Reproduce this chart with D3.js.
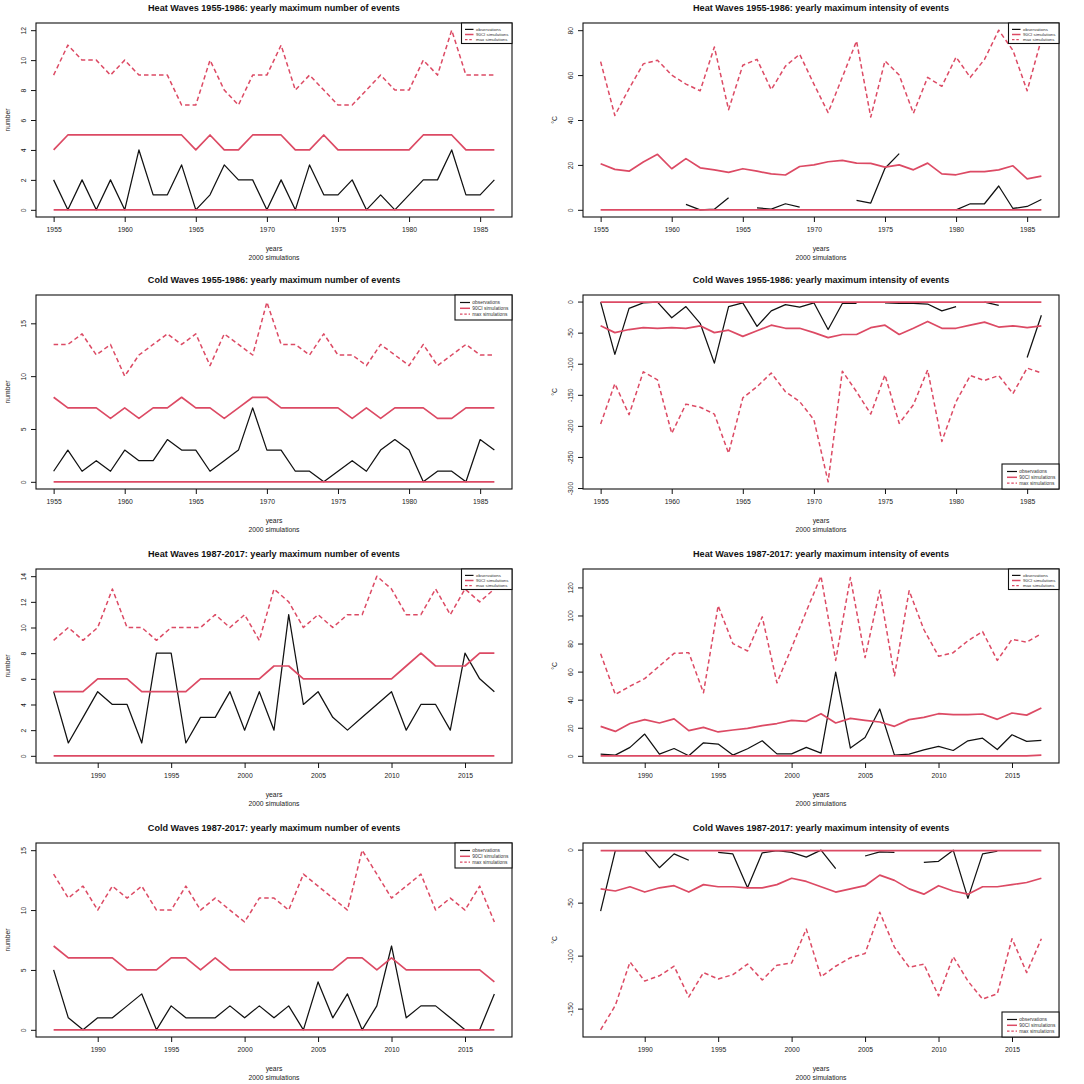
<!DOCTYPE html>
<html><head><meta charset="utf-8">
<script src="https://cdn.jsdelivr.net/npm/d3@7"></script>
<style>body{margin:0;background:#fff}svg{display:block}text{font-family:"Liberation Sans",Arial,Helvetica,sans-serif}</style>
</head><body><svg id="c" width="1084" height="1084"></svg>
<script>
// ---------- categories & ticks ----------
const years1 = [1955,1956,1957,1958,1959,1960,1961,1962,1963,1964,1965,1966,1967,1968,1969,1970,1971,1972,1973,1974,1975,1976,1977,1978,1979,1980,1981,1982,1983,1984,1985,1986];
const years2 = [1987,1988,1989,1990,1991,1992,1993,1994,1995,1996,1997,1998,1999,2000,2001,2002,2003,2004,2005,2006,2007,2008,2009,2010,2011,2012,2013,2014,2015,2016,2017];
const xTicks1 = [1955,1960,1965,1970,1975,1980,1985];
const xTicks2 = [1990,1995,2000,2005,2010,2015];
const legendLabels = ["observations","90CI simulations","max simulations"];

// ---------- Heat Waves 1955-1986: number ----------
const heatNum1Obs = [2,0,2,0,2,0,4,1,1,3,0,1,3,2,2,0,2,0,3,1,1,2,0,1,0,1,2,2,4,1,1,2];
const heatNum1Lo  = [0,0,0,0,0,0,0,0,0,0,0,0,0,0,0,0,0,0,0,0,0,0,0,0,0,0,0,0,0,0,0,0];
const heatNum1Hi  = [4,5,5,5,5,5,5,5,5,5,4,5,4,4,5,5,5,4,4,5,4,4,4,4,4,4,5,5,5,4,4,4];
const heatNum1Max = [9,11,10,10,9,10,9,9,9,7,7,10,8,7,9,9,11,8,9,8,7,7,8,9,8,8,10,9,12,9,9,9];
const heatNum1Ticks = [0,2,4,6,8,10,12];

// ---------- Heat Waves 1955-1986: intensity ----------
const heatInt1Obs = [null,null,null,null,null,null,2.4,0,0.3,5.4,null,0.9,0.3,2.7,1.2,null,null,null,4.2,3,18.5,25,null,null,null,0,2.7,2.7,10.6,0.6,1.5,4.6];
const heatInt1Lo  = [0,0,0,0,0,0,0,0,0,0,0,0,0,0,0,0,0,0,0,0,0,0,0,0,0,0,0,0,0,0,0,0];
const heatInt1Hi  = [20.5,18,17.2,21.3,24.7,18.3,22.8,18.7,17.8,16.7,18.3,17.2,16,15.5,19.3,20,21.4,22,20.8,20.7,19,20,17.8,20.8,16,15.6,17,17,17.8,19.6,13.8,15];
const heatInt1Max = [66,42,54,65,66.6,60,56,53,72.5,44.6,64.4,67,53.5,64,69.3,56,43.3,59,75.2,41.3,66.3,60,43,59,55,68,59,67,80,71,53,76];
const heatInt1Ticks = [0,20,40,60,80];

// ---------- Cold Waves 1955-1986: number ----------
const coldNum1Obs = [1,3,1,2,1,3,2,2,4,3,3,1,2,3,7,3,3,1,1,0,1,2,1,3,4,3,0,1,1,0,4,3];
const coldNum1Lo  = [0,0,0,0,0,0,0,0,0,0,0,0,0,0,0,0,0,0,0,0,0,0,0,0,0,0,0,0,0,0,0,0];
const coldNum1Hi  = [8,7,7,7,6,7,6,7,7,8,7,7,6,7,8,8,7,7,7,7,7,6,7,6,7,7,7,6,6,7,7,7];
const coldNum1Max = [13,13,14,12,13,10,12,13,14,13,14,11,14,13,12,17,13,13,12,14,12,12,11,13,12,11,13,11,12,13,12,12];
const coldNum1Ticks = [0,5,10,15];

// ---------- Cold Waves 1955-1986: intensity ----------
const coldInt1Obs = [-1,-85,-11,-2,-1,-26,-8,-35,-99,-8,-2,-40,-15,-5,-9,-2,-45,-3,-3,null,-2,-3,-3,-4,-15,-8,null,-1,-6,null,-90,-22];
const coldInt1Lo  = [-39,-50,-45,-42,-43,-42,-43,-39,-50,-46,-56,-47,-38,-43,-43,-50,-58,-53,-53,-42,-38,-53,-43,-32,-43,-43,-38,-33,-41,-39,-42,-39];
const coldInt1Hi  = [-1,-1,-1,-1,-1,-1,-1,-1,-1,-1,-1,-1,-1,-1,-1,-1,-1,-1,-1,-1,-1,-1,-1,-1,-1,-1,-1,-1,-1,-1,-1,-1];
const coldInt1Max = [-197,-132,-182,-113,-126,-212,-165,-170,-181,-244,-155,-137,-115,-145,-161,-190,-290,-112,-145,-181,-118,-196,-166,-110,-225,-161,-119,-127,-119,-148,-107,-115];
const coldInt1Ticks = [-300,-250,-200,-150,-100,-50,0];

// ---------- Heat Waves 1987-2017: number ----------
const heatNum2Obs = [5,1,3,5,4,4,1,8,8,1,3,3,5,2,5,2,11,4,5,3,2,3,4,5,2,4,4,2,8,6,5];
const heatNum2Lo  = [0,0,0,0,0,0,0,0,0,0,0,0,0,0,0,0,0,0,0,0,0,0,0,0,0,0,0,0,0,0,0];
const heatNum2Hi  = [5,5,5,6,6,6,5,5,5,5,6,6,6,6,6,7,7,6,6,6,6,6,6,6,7,8,7,7,7,8,8];
const heatNum2Max = [9,10,9,10,13,10,10,9,10,10,10,11,10,11,9,13,12,10,11,10,11,11,14,13,11,11,13,11,13,12,13];
const heatNum2Ticks = [0,2,4,6,8,10,12,14];

// ---------- Heat Waves 1987-2017: intensity ----------
const heatInt2Obs = [1.2,0.5,6,15.5,1.2,5.2,0,9.3,8.4,0.5,5,10.7,1.4,1.4,6,1.9,59.7,5.5,13,33.4,0.5,1.2,4.3,6.7,3.8,10.7,12.6,4.5,15,10.3,11];
const heatInt2Lo  = [0,0,0,0,0,0,0,0,0,0,0,0,0,0,0,0,0,0,0,0,0,0,0,0,0,0,0,0,0,0,0.5];
const heatInt2Hi  = [21,17.4,23,25.8,23.4,26.3,18,20.3,17,18.4,19.6,21.5,23,25.3,24.6,30,23.4,26.7,25.3,24.1,21,25.8,27.4,30,29.4,29.4,29.8,26,30.5,29,34];
const heatInt2Max = [72.8,43.7,49.6,55,64,73,73.5,44.9,107,80,74.7,99,52,77,103,128,68,127,70,118,57,117.7,90,71,73.5,82,88.5,68,83,81,87];
const heatInt2Ticks = [0,20,40,60,80,100,120];

// ---------- Cold Waves 1987-2017: number ----------
const coldNum2Obs = [5,1,0,1,1,2,3,0,2,1,1,1,2,1,2,1,2,0,4,1,3,0,2,7,1,2,2,1,0,0,3];
const coldNum2Lo  = [0,0,0,0,0,0,0,0,0,0,0,0,0,0,0,0,0,0,0,0,0,0,0,0,0,0,0,0,0,0,0];
const coldNum2Hi  = [7,6,6,6,6,5,5,5,6,6,5,6,5,5,5,5,5,5,5,5,6,6,5,6,5,5,5,5,5,5,4];
const coldNum2Max = [13,11,12,10,12,11,12,10,10,12,10,11,10,9,11,11,10,13,12,11,10,15,13,11,12,13,10,11,10,12,9];
const coldNum2Ticks = [0,5,10,15];

// ---------- Cold Waves 1987-2017: intensity ----------
const coldInt2Obs = [-58,-1,-1,-1,-17,-4,-10,null,-2.5,-4,-36,-3,-1,-2.5,-7,-0.5,-18,null,-6,-2,-2.5,null,-12,-11,-0.5,-46,-4,-1.5,null,null,null];
const coldInt2Lo  = [-37,-39,-35,-40,-36,-34,-40,-33,-35,-35,-36,-36,-33,-27,-30,-35,-40,-37,-34,-24,-29,-37,-42,-34,-39,-42,-35,-35,-33,-31,-27];
const coldInt2Hi  = [-1,-1,-1,-1,-1,-1,-1,-1,-1,-1,-1,-1,-1,-1,-1,-1,-1,-1,-1,-1,-1,-1,-1,-1,-1,-1,-1,-1,-1,-1,-1];
const coldInt2Max = [-170,-147,-106,-124,-119,-110,-139,-116,-122,-118,-108,-123,-109,-107,-75,-120,-110,-102,-98,-59,-92,-111,-108,-138,-101,-124,-141,-136,-84,-116,-84];
const coldInt2Ticks = [-150,-100,-50,0];

// ---------- panel table built from the arrays ----------
const panels = [
  {title:"Heat Waves 1955-1986: yearly maximum number of events", years:years1, xTicks:xTicks1, obs:heatNum1Obs, lo:heatNum1Lo, hi:heatNum1Hi, max:heatNum1Max, yTicks:heatNum1Ticks, yLabel:"number", col:0, row:0, legend:"heat", legendAt:"top"},
  {title:"Heat Waves 1955-1986: yearly maximum intensity of events", years:years1, xTicks:xTicks1, obs:heatInt1Obs, lo:heatInt1Lo, hi:heatInt1Hi, max:heatInt1Max, yTicks:heatInt1Ticks, yLabel:"°C", col:1, row:0, legend:"heat", legendAt:"top"},
  {title:"Cold Waves 1955-1986: yearly maximum number of events", years:years1, xTicks:xTicks1, obs:coldNum1Obs, lo:coldNum1Lo, hi:coldNum1Hi, max:coldNum1Max, yTicks:coldNum1Ticks, yLabel:"number", col:0, row:1, legend:"cold", legendAt:"top"},
  {title:"Cold Waves 1955-1986: yearly maximum intensity of events", years:years1, xTicks:xTicks1, obs:coldInt1Obs, lo:coldInt1Lo, hi:coldInt1Hi, max:coldInt1Max, yTicks:coldInt1Ticks, yLabel:"°C", col:1, row:1, legend:"cold", legendAt:"bottom"},
  {title:"Heat Waves 1987-2017: yearly maximum number of events", years:years2, xTicks:xTicks2, obs:heatNum2Obs, lo:heatNum2Lo, hi:heatNum2Hi, max:heatNum2Max, yTicks:heatNum2Ticks, yLabel:"number", col:0, row:2, legend:"heat", legendAt:"top"},
  {title:"Heat Waves 1987-2017: yearly maximum intensity of events", years:years2, xTicks:xTicks2, obs:heatInt2Obs, lo:heatInt2Lo, hi:heatInt2Hi, max:heatInt2Max, yTicks:heatInt2Ticks, yLabel:"°C", col:1, row:2, legend:"heat", legendAt:"top"},
  {title:"Cold Waves 1987-2017: yearly maximum number of events", years:years2, xTicks:xTicks2, obs:coldNum2Obs, lo:coldNum2Lo, hi:coldNum2Hi, max:coldNum2Max, yTicks:coldNum2Ticks, yLabel:"number", col:0, row:3, legend:"cold", legendAt:"top"},
  {title:"Cold Waves 1987-2017: yearly maximum intensity of events", years:years2, xTicks:xTicks2, obs:coldInt2Obs, lo:coldInt2Lo, hi:coldInt2Hi, max:coldInt2Max, yTicks:coldInt2Ticks, yLabel:"°C", col:1, row:3, legend:"cold", legendAt:"bottom"}
];

// ---------- drawing ----------
const RED = "#DC4A64";
const svg = d3.select("#c");
const colLeft = [36, 583], frameW = 476, rowTop = [23, 295, 569, 843], frameH = 194;
const tickFont = 6.8;

panels.forEach(p => {
  const L = colLeft[p.col], T = rowTop[p.row], B = T + frameH, R = L + frameW;
  const g = svg.append("g");
  const y0 = p.years[0], y1 = p.years[p.years.length - 1], span = y1 - y0;
  const x = d3.scaleLinear().domain([y0 - 0.04 * span, y1 + 0.04 * span]).range([L, R]);
  const vals = [].concat(p.obs, p.lo, p.hi, p.max).filter(v => v != null);
  const [mn, mx] = d3.extent(vals), rg = mx - mn;
  const y = d3.scaleLinear().domain([mn - 0.04 * rg, mx + 0.04 * rg]).range([B, T]);

  const line = d3.line().defined(d => d[1] != null).x(d => x(d[0])).y(d => y(d[1]));
  const pts = arr => p.years.map((yr, i) => [yr, arr[i]]);

  // series
  g.append("path").attr("d", line(pts(p.obs))).attr("fill", "none").attr("stroke", "#111").attr("stroke-width", 1.25).attr("stroke-linejoin", "round");
  g.append("path").attr("d", line(pts(p.lo))).attr("fill", "none").attr("stroke", RED).attr("stroke-width", 1.7).attr("stroke-linejoin", "round");
  g.append("path").attr("d", line(pts(p.hi))).attr("fill", "none").attr("stroke", RED).attr("stroke-width", 1.7).attr("stroke-linejoin", "round");
  g.append("path").attr("d", line(pts(p.max))).attr("fill", "none").attr("stroke", RED).attr("stroke-width", 1.5).attr("stroke-dasharray", "4.5,3").attr("stroke-linejoin", "round");

  // frame
  g.append("rect").attr("x", L).attr("y", T).attr("width", frameW).attr("height", frameH).attr("fill", "none").attr("stroke", "#111").attr("stroke-width", 1.1);

  // x axis
  const xa = g.append("g").attr("transform", `translate(0,${B})`)
    .call(d3.axisBottom(x).tickValues(p.xTicks).tickSize(5).tickPadding(5.5).tickFormat(d3.format("d")));
  xa.select(".domain").remove();
  xa.selectAll(".tick line").attr("stroke", "#111");
  xa.selectAll(".tick text").attr("font-size", tickFont).attr("fill", "#222").style("font-family", '"Liberation Sans",Arial,sans-serif');

  // y axis
  const ya = g.append("g").attr("transform", `translate(${L},0)`)
    .call(d3.axisLeft(y).tickValues(p.yTicks).tickSize(5).tickFormat(d3.format("d")));
  ya.select(".domain").remove();
  ya.selectAll(".tick line").attr("stroke", "#111");
  ya.selectAll(".tick text").attr("x", 0).attr("dy", 0).attr("text-anchor", "middle")
    .attr("transform", "translate(-9.6,0) rotate(-90)")
    .attr("font-size", tickFont).attr("fill", "#222").style("font-family", '"Liberation Sans",Arial,sans-serif')
    .text(d => d3.format("d")(d).replace("−", "-"));

  // titles & labels
  g.append("text").attr("x", (L + R) / 2).attr("y", T - 12).attr("text-anchor", "middle")
    .attr("font-size", 9.1).attr("font-weight", "bold").attr("fill", "#111").text(p.title);
  g.append("text").attr("x", (L + R) / 2).attr("y", B + 33.5).attr("text-anchor", "middle")
    .attr("font-size", tickFont).attr("fill", "#222").text("years");
  g.append("text").attr("x", (L + R) / 2).attr("y", B + 42.5).attr("text-anchor", "middle")
    .attr("font-size", tickFont).attr("fill", "#222").text("2000 simulations");
  g.append("text").attr("transform", `translate(${L - 26},${(T + B) / 2}) rotate(-90)`).attr("text-anchor", "middle")
    .attr("font-size", tickFont).attr("fill", "#222").text(p.yLabel);

  // legend
  const cold = p.legend === "cold";
  const lw = cold ? 57 : 50.5, lh = cold ? 25 : 20.5;
  const rows = cold ? [7.5, 13.3, 19.1] : [6.4, 11.5, 16.6];
  const fs = cold ? 4.9 : 4.4;
  const lx = R - lw, ly = p.legendAt === "top" ? T : B - lh;
  const lg = g.append("g");
  lg.append("rect").attr("x", lx).attr("y", ly).attr("width", lw).attr("height", lh).attr("fill", "#fff").attr("stroke", "#111").attr("stroke-width", 1.1);
  const styles = [{c:"#111", w:1.2, d:null}, {c:RED, w:1.5, d:null}, {c:RED, w:1.4, d:"2.5,1.8"}];
  const sx0 = cold ? 5 : 3.5, sx1 = cold ? 15 : 12, tx = cold ? 17.3 : 14.5;
  legendLabels.forEach((lab, i) => {
    lg.append("line").attr("x1", lx + sx0).attr("x2", lx + sx1).attr("y1", ly + rows[i]).attr("y2", ly + rows[i])
      .attr("stroke", styles[i].c).attr("stroke-width", styles[i].w).attr("stroke-dasharray", styles[i].d);
    lg.append("text").attr("x", lx + tx).attr("y", ly + rows[i] + fs * 0.35).attr("font-size", fs).attr("fill", "#333").text(lab);
  });
});
</script></body></html>
